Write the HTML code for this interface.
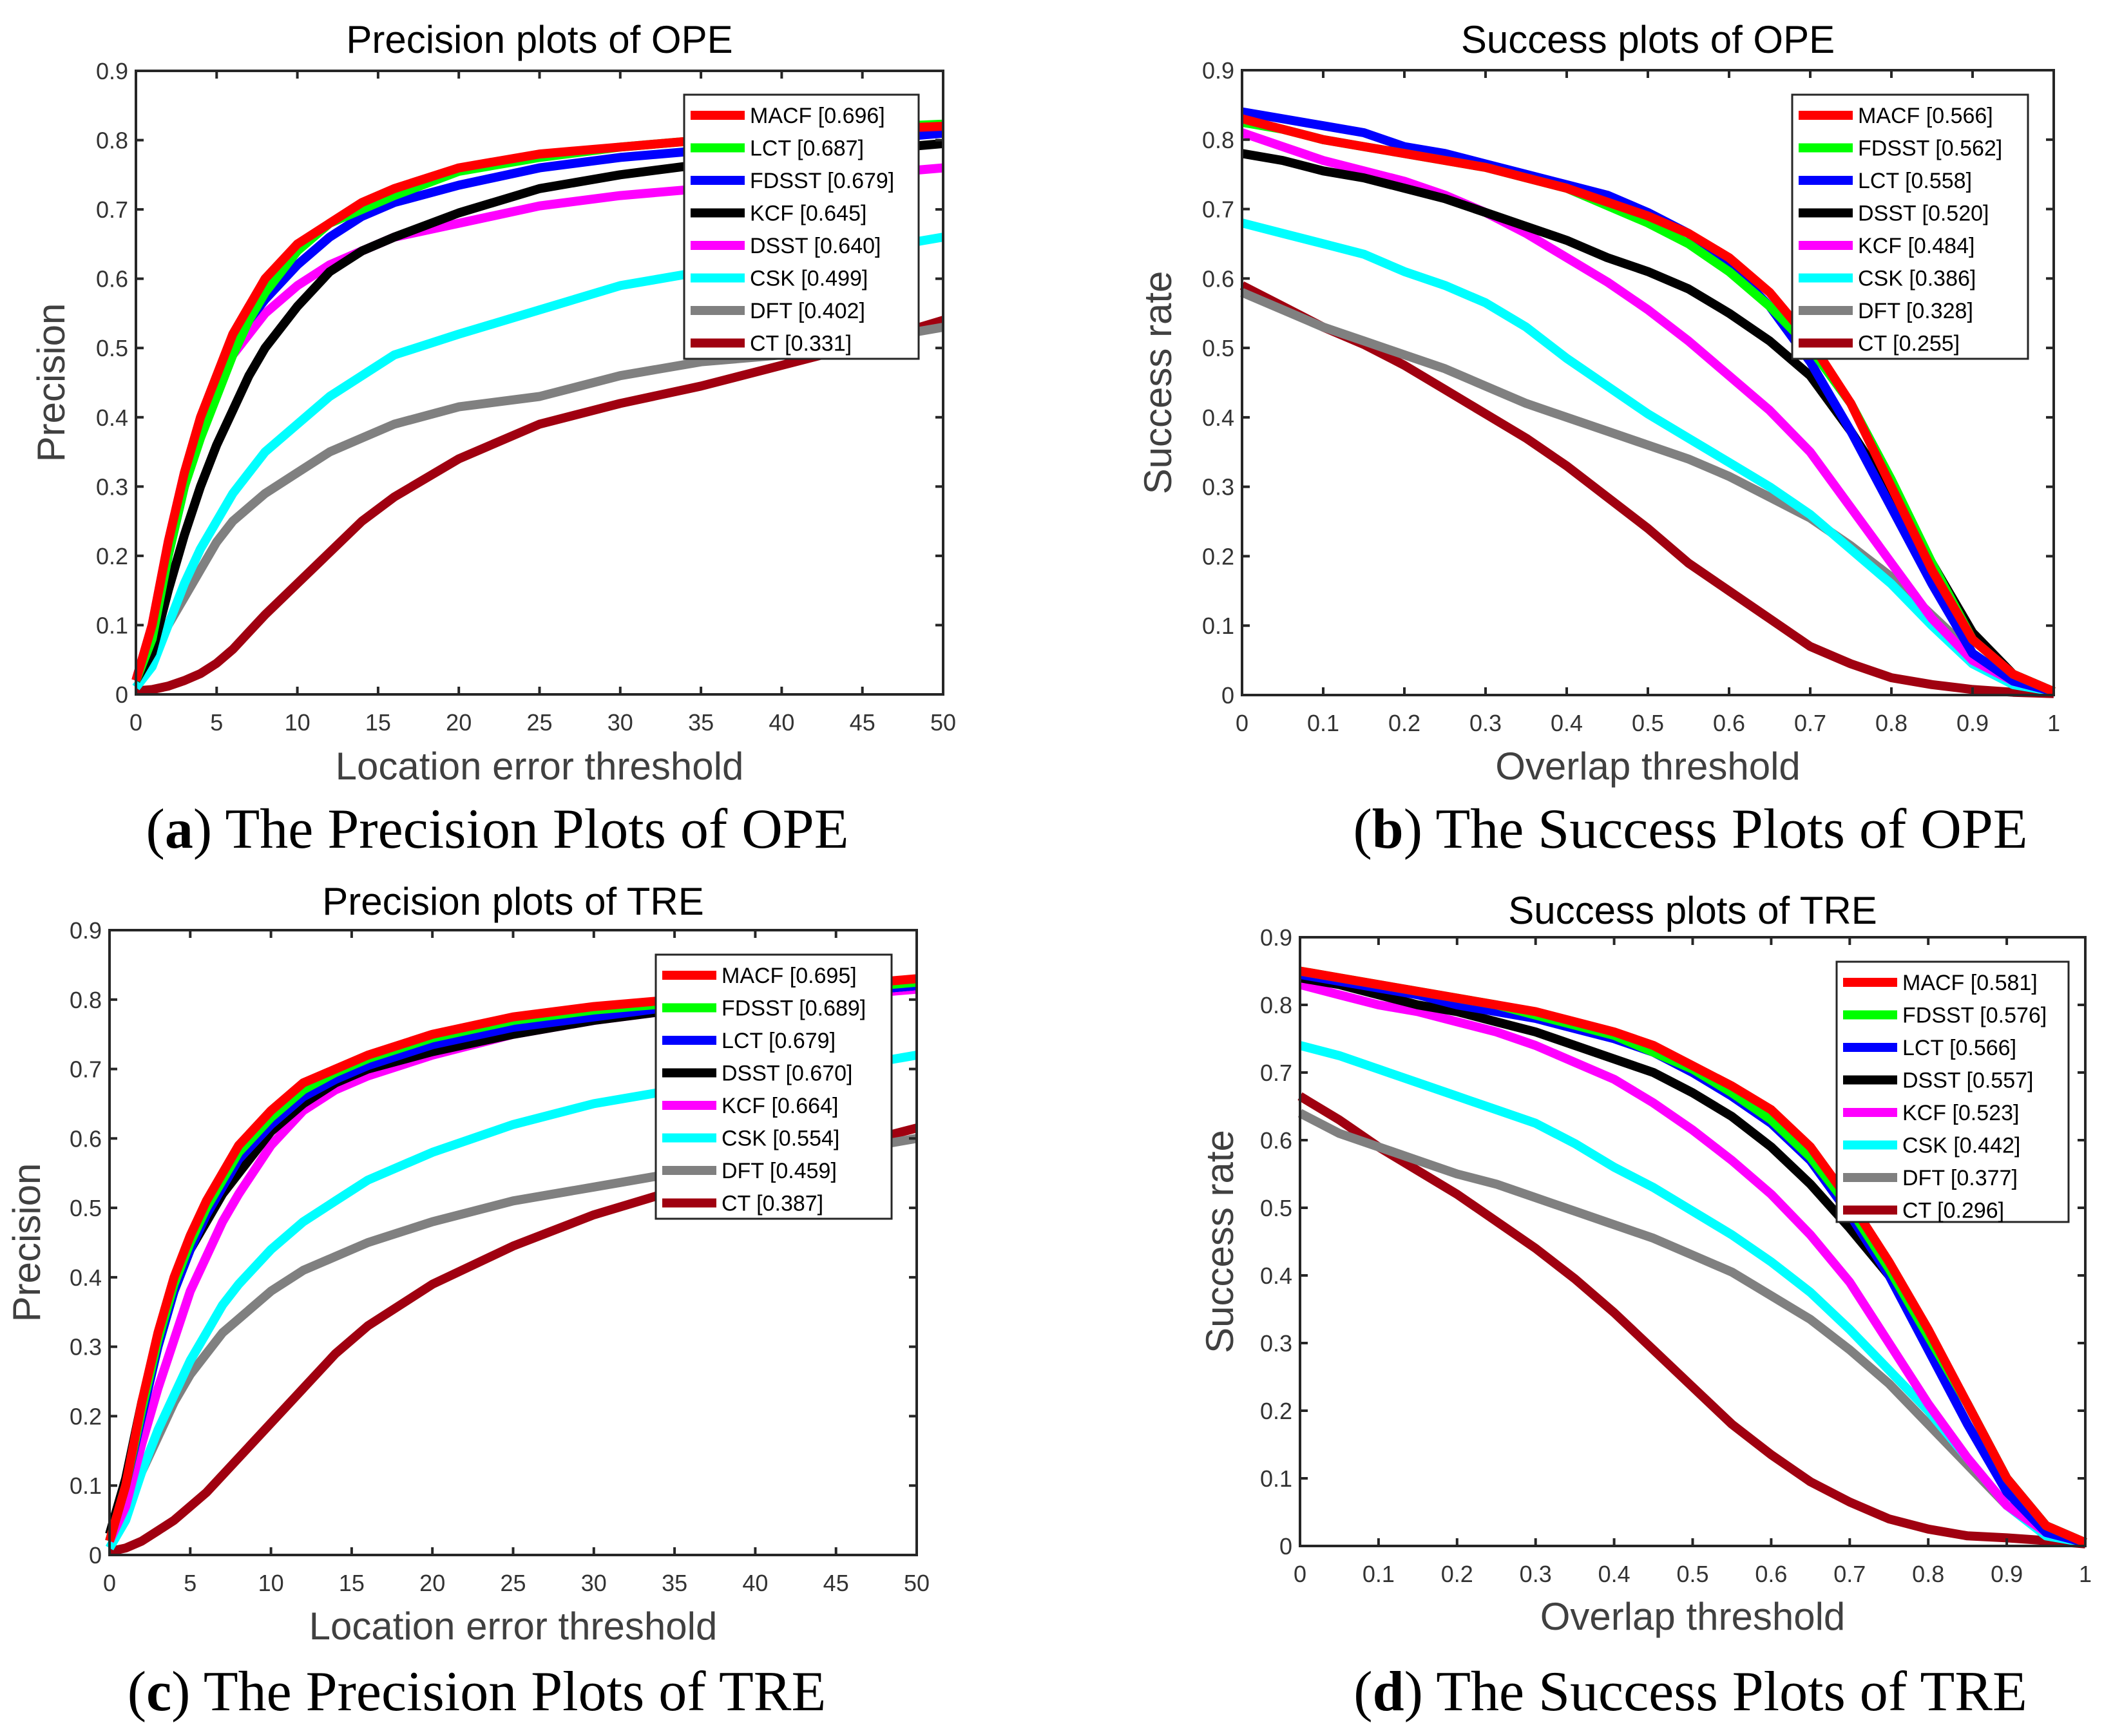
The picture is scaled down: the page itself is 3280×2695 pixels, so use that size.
<!DOCTYPE html>
<html><head><meta charset="utf-8"><style>
html,body{margin:0;padding:0;background:#fff;}
svg{display:block;font-family:"Liberation Sans",sans-serif;}
.cap{font-family:"Liberation Serif",serif;font-size:88px;fill:#000;}
</style></head><body>
<svg id="fig" width="3280" height="2695" viewBox="0 0 3280 2695" xmlns="http://www.w3.org/2000/svg">
<text class="cap" x="772" y="1316" text-anchor="middle">(<tspan font-weight="bold">a</tspan>) The Precision Plots of OPE</text>
<text class="cap" x="2624" y="1316" text-anchor="middle">(<tspan font-weight="bold">b</tspan>) The Success Plots of OPE</text>
<text class="cap" x="740" y="2655" text-anchor="middle">(<tspan font-weight="bold">c</tspan>) The Precision Plots of TRE</text>
<text class="cap" x="2624" y="2655" text-anchor="middle">(<tspan font-weight="bold">d</tspan>) The Success Plots of TRE</text>
</svg>
<script>
const palette = ["#ff0000","#00ff00","#0000ff","#000000","#ff00ff","#00ffff","#808080","#a00010"];
const precX = [0,1,2,3,4,5,6,7,8,10,12,14,16,20,25,30,35,40,45,50];
const succX = [0,0.05,0.1,0.15,0.2,0.25,0.3,0.35,0.4,0.45,0.5,0.55,0.6,0.65,0.7,0.75,0.8,0.85,0.9,0.95,1];
const yTicks = [0,0.1,0.2,0.3,0.4,0.5,0.6,0.7,0.8,0.9];
const precTicks = [0,5,10,15,20,25,30,35,40,45,50];
const succTicks = [0,0.1,0.2,0.3,0.4,0.5,0.6,0.7,0.8,0.9,1];

// (a) Precision OPE
const aNames = ["MACF","LCT","FDSST","KCF","DSST","CSK","DFT","CT"];
const aScores = ["0.696","0.687","0.679","0.645","0.640","0.499","0.402","0.331"];
const aMACF = [0.02,0.1,0.22,0.32,0.4,0.46,0.52,0.56,0.6,0.65,0.68,0.71,0.73,0.76,0.78,0.79,0.80,0.81,0.815,0.82];
const aLCT = [0.02,0.08,0.2,0.3,0.37,0.43,0.49,0.54,0.58,0.64,0.68,0.70,0.72,0.755,0.775,0.79,0.80,0.81,0.818,0.823];
const aFDSST = [0.02,0.08,0.2,0.3,0.38,0.44,0.5,0.54,0.57,0.62,0.66,0.69,0.71,0.735,0.76,0.775,0.785,0.795,0.80,0.81];
const aKCF = [0.02,0.06,0.15,0.23,0.3,0.36,0.41,0.46,0.5,0.56,0.61,0.64,0.66,0.695,0.73,0.75,0.765,0.775,0.785,0.795];
const aDSST = [0.02,0.1,0.22,0.32,0.39,0.45,0.49,0.52,0.55,0.59,0.62,0.64,0.66,0.68,0.705,0.72,0.73,0.74,0.75,0.76];
const aCSK = [0.01,0.04,0.1,0.16,0.21,0.25,0.29,0.32,0.35,0.39,0.43,0.46,0.49,0.52,0.555,0.59,0.61,0.62,0.64,0.66];
const aDFT = [0.02,0.05,0.1,0.14,0.18,0.22,0.25,0.27,0.29,0.32,0.35,0.37,0.39,0.415,0.43,0.46,0.48,0.49,0.51,0.53];
const aCT = [0.005,0.007,0.012,0.02,0.03,0.045,0.065,0.09,0.115,0.16,0.205,0.25,0.285,0.34,0.39,0.42,0.445,0.475,0.505,0.54];

// (b) Success OPE
const bNames = ["MACF","FDSST","LCT","DSST","KCF","CSK","DFT","CT"];
const bScores = ["0.566","0.562","0.558","0.520","0.484","0.386","0.328","0.255"];
const bMACF = [0.83,0.815,0.80,0.79,0.78,0.77,0.76,0.745,0.73,0.71,0.69,0.665,0.63,0.58,0.51,0.42,0.30,0.18,0.08,0.03,0.005];
const bFDSST = [0.825,0.815,0.80,0.79,0.78,0.77,0.76,0.745,0.73,0.705,0.68,0.65,0.61,0.56,0.50,0.42,0.31,0.19,0.08,0.03,0.005];
const bLCT = [0.84,0.83,0.82,0.81,0.79,0.78,0.765,0.75,0.735,0.72,0.695,0.665,0.62,0.56,0.48,0.38,0.27,0.16,0.06,0.02,0.005];
const bDSST = [0.78,0.77,0.755,0.745,0.73,0.715,0.695,0.675,0.655,0.63,0.61,0.585,0.55,0.51,0.46,0.38,0.29,0.19,0.09,0.03,0.005];
const bKCF = [0.81,0.79,0.77,0.755,0.74,0.72,0.695,0.665,0.63,0.595,0.555,0.51,0.46,0.41,0.35,0.27,0.19,0.11,0.05,0.02,0.005];
const bCSK = [0.68,0.665,0.65,0.635,0.61,0.59,0.565,0.53,0.485,0.445,0.405,0.37,0.335,0.3,0.26,0.21,0.16,0.10,0.045,0.015,0.005];
const bDFT = [0.58,0.555,0.53,0.51,0.49,0.47,0.445,0.42,0.40,0.38,0.36,0.34,0.315,0.285,0.255,0.215,0.17,0.115,0.06,0.02,0.005];
const bCT = [0.59,0.56,0.53,0.505,0.475,0.44,0.405,0.37,0.33,0.285,0.24,0.19,0.15,0.11,0.07,0.045,0.025,0.015,0.008,0.004,0.002];

// (c) Precision TRE
const cNames = ["MACF","FDSST","LCT","DSST","KCF","CSK","DFT","CT"];
const cScores = ["0.695","0.689","0.679","0.670","0.664","0.554","0.459","0.387"];
const cMACF = [0.02,0.1,0.22,0.32,0.4,0.46,0.51,0.55,0.59,0.64,0.68,0.70,0.72,0.75,0.775,0.79,0.80,0.81,0.82,0.83];
const cFDSST = [0.02,0.1,0.21,0.31,0.39,0.45,0.5,0.54,0.58,0.63,0.67,0.695,0.715,0.745,0.77,0.785,0.795,0.805,0.815,0.825];
const cLCT = [0.02,0.1,0.2,0.3,0.38,0.44,0.49,0.53,0.57,0.62,0.66,0.685,0.705,0.735,0.76,0.775,0.79,0.80,0.81,0.82];
const cDSST = [0.03,0.11,0.22,0.31,0.38,0.44,0.48,0.52,0.55,0.61,0.65,0.68,0.70,0.725,0.75,0.77,0.785,0.80,0.81,0.82];
const cKCF = [0.02,0.07,0.16,0.24,0.31,0.38,0.43,0.48,0.52,0.59,0.64,0.67,0.69,0.72,0.75,0.77,0.785,0.795,0.805,0.815];
const cCSK = [0.01,0.05,0.12,0.18,0.23,0.28,0.32,0.36,0.39,0.44,0.48,0.51,0.54,0.58,0.62,0.65,0.67,0.685,0.70,0.72];
const cDFT = [0.02,0.06,0.12,0.17,0.22,0.26,0.29,0.32,0.34,0.38,0.41,0.43,0.45,0.48,0.51,0.53,0.55,0.565,0.58,0.60];
const cCT = [0.005,0.01,0.02,0.035,0.05,0.07,0.09,0.115,0.14,0.19,0.24,0.29,0.33,0.39,0.445,0.49,0.525,0.555,0.585,0.615];

// (d) Success TRE
const dNames = ["MACF","FDSST","LCT","DSST","KCF","CSK","DFT","CT"];
const dScores = ["0.581","0.576","0.566","0.557","0.523","0.442","0.377","0.296"];
const dMACF = [0.85,0.84,0.83,0.82,0.81,0.80,0.79,0.775,0.76,0.74,0.71,0.68,0.645,0.59,0.51,0.42,0.32,0.21,0.10,0.03,0.005];
const dFDSST = [0.85,0.84,0.83,0.82,0.81,0.80,0.785,0.77,0.755,0.73,0.705,0.67,0.63,0.575,0.50,0.41,0.31,0.21,0.10,0.03,0.005];
const dLCT = [0.845,0.835,0.825,0.815,0.80,0.79,0.78,0.765,0.75,0.73,0.70,0.665,0.625,0.57,0.49,0.40,0.29,0.18,0.08,0.02,0.005];
const dDSST = [0.84,0.83,0.815,0.80,0.79,0.775,0.76,0.74,0.72,0.70,0.67,0.635,0.59,0.535,0.47,0.40,0.31,0.21,0.10,0.03,0.005];
const dKCF = [0.83,0.815,0.80,0.79,0.775,0.76,0.74,0.715,0.69,0.655,0.615,0.57,0.52,0.46,0.39,0.30,0.21,0.13,0.06,0.02,0.005];
const dCSK = [0.74,0.725,0.705,0.685,0.665,0.645,0.625,0.595,0.56,0.53,0.495,0.46,0.42,0.375,0.32,0.26,0.20,0.13,0.06,0.015,0.005];
const dDFT = [0.64,0.61,0.59,0.57,0.55,0.535,0.515,0.495,0.475,0.455,0.43,0.405,0.37,0.335,0.29,0.24,0.18,0.12,0.06,0.025,0.005];
const dCT = [0.665,0.63,0.59,0.555,0.52,0.48,0.44,0.395,0.345,0.29,0.235,0.18,0.135,0.095,0.065,0.04,0.025,0.015,0.012,0.008,0.003];

const NS = "http://www.w3.org/2000/svg";
const svg = document.getElementById("fig");
function mk(tag, attrs, parent){
  const e = document.createElementNS(NS, tag);
  for (const k in attrs) e.setAttribute(k, attrs[k]);
  (parent||svg).appendChild(e);
  return e;
}

function drawChart(id, box, xs, xMax, xTicks, names, scores, series, title, xlabel, ylabel, titleY, xlabY, ylabX, leg){
  const g = mk("g", {});
  
  
  const [L,R,T,B] = box;
  const sx = v => L + (v / xMax) * (R - L);
  const sy = v => B - (v / 0.9) * (B - T);
  mk("rect",{x:L,y:T,width:R-L,height:B-T,fill:"#fff"},g);
  for (let i = names.length-1; i >= 0; i--){
    const vals = series[i];
    const pts = vals.map((v,j)=> sx(xs[j]).toFixed(1)+","+sy(v).toFixed(1)).join(" ");
    const pl = mk("polyline",{points:pts,fill:"none",stroke:palette[i],"stroke-width":14,"stroke-linejoin":"round"},g);
    
    
  }
  mk("rect",{x:L,y:T,width:R-L,height:B-T,fill:"none",stroke:"#262626","stroke-width":4},g);
  xTicks.forEach(t=>{
    const x = sx(t);
    mk("line",{x1:x,y1:B,x2:x,y2:B-12,stroke:"#262626","stroke-width":4},g);
    mk("line",{x1:x,y1:T,x2:x,y2:T+12,stroke:"#262626","stroke-width":4},g);
    const tx = mk("text",{x:x,y:B+56,"text-anchor":"middle","font-size":36,fill:"#333"},g);
    tx.textContent = String(t);
    
    
  });
  yTicks.forEach(t=>{
    const y = sy(t);
    mk("line",{x1:L,y1:y,x2:L+12,y2:y,stroke:"#262626","stroke-width":4},g);
    mk("line",{x1:R,y1:y,x2:R-12,y2:y,stroke:"#262626","stroke-width":4},g);
    const ty = mk("text",{x:L-12,y:y+13,"text-anchor":"end","font-size":36,fill:"#333"},g);
    ty.textContent = String(t);
    
    
  });
  const ti = mk("text",{x:(L+R)/2,y:titleY,"text-anchor":"middle","font-size":60,fill:"#000"},g);
  ti.textContent = title;
  
  
  const xl = mk("text",{x:(L+R)/2,y:xlabY,"text-anchor":"middle","font-size":60,fill:"#404040"},g);
  xl.textContent = xlabel;
  
  
  const cy = (T+B)/2;
  const yl = mk("text",{x:ylabX,y:cy,"text-anchor":"middle","font-size":60,fill:"#404040",transform:`rotate(-90 ${ylabX} ${cy})`},g);
  yl.textContent = ylabel;
  
  
  const [lx,ly,lw,lh] = leg;
  const lg = mk("g",{},g);
  
  
  mk("rect",{x:lx,y:ly,width:lw,height:lh,fill:"#fff",stroke:"#262626","stroke-width":3},lg);
  names.forEach((n,i)=>{
    const ry = ly + 32 + i*50.5;
    const e = mk("g",{},lg);
    
    
    mk("line",{x1:lx+10,y1:ry,x2:lx+94,y2:ry,stroke:palette[i],"stroke-width":14},e);
    const t = mk("text",{x:lx+102,y:ry+12,"font-size":34,fill:"#000"},e);
    t.textContent = n + " [" + scores[i] + "]";
  });
}

drawChart("chart-precision-ope",[211,1464,110,1078],precX,50,precTicks,aNames,aScores,
  [aMACF,aLCT,aFDSST,aKCF,aDSST,aCSK,aDFT,aCT],"Precision plots of OPE","Location error threshold","Precision",82,1210,100,[1062,147,364,410]);
drawChart("chart-success-ope",[1928,3188,109,1079],succX,1,succTicks,bNames,bScores,
  [bMACF,bFDSST,bLCT,bDSST,bKCF,bCSK,bDFT,bCT],"Success plots of OPE","Overlap threshold","Success rate",82,1210,1818,[2782,147,366,410]);
drawChart("chart-precision-tre",[170,1423,1444,2414],precX,50,precTicks,cNames,cScores,
  [cMACF,cFDSST,cLCT,cDSST,cKCF,cCSK,cDFT,cCT],"Precision plots of TRE","Location error threshold","Precision",1420,2545,62,[1018,1482,366,410]);
drawChart("chart-success-tre",[2018,3237,1455,2400],succX,1,succTicks,dNames,dScores,
  [dMACF,dFDSST,dLCT,dDSST,dKCF,dCSK,dDFT,dCT],"Success plots of TRE","Overlap threshold","Success rate",1434,2530,1914,[2851,1493,360,404]);
</script>
</body></html>
